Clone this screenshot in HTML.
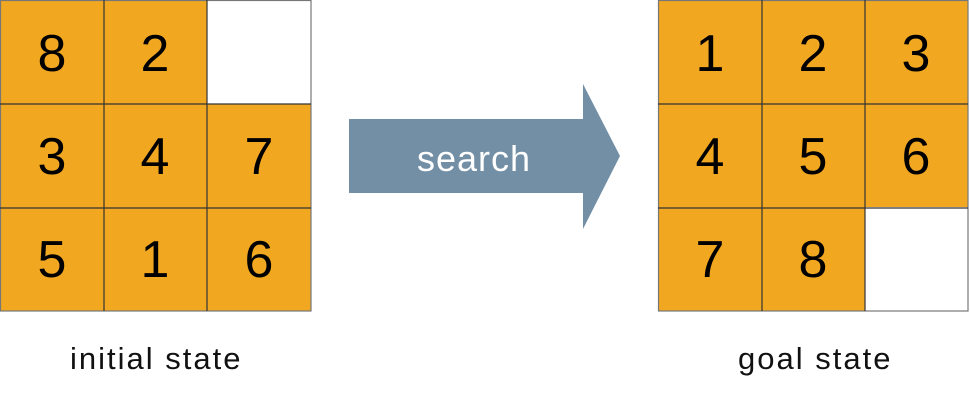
<!DOCTYPE html>
<html><head><style>
body{margin:0;width:970px;height:405px;background:#fff;overflow:hidden}
</style></head><body>
<svg width="970" height="405" style="position:absolute;left:0;top:0" font-family="Liberation Sans,sans-serif">
<g fill="#F2A720">
<rect x="0" y="0" width="207" height="104"/><rect x="0" y="104" width="311" height="207"/>
<rect x="658" y="0" width="310" height="207"/><rect x="658" y="207" width="207" height="104"/>
</g>
<g stroke="#333" stroke-width="1.2" fill="none">
<rect x="0.5" y="0.5" width="310.5" height="310.5" stroke="#777"/>
<line x1="104" y1="0" x2="104" y2="311"/><line x1="207" y1="0" x2="207" y2="311"/>
<line x1="0" y1="104" x2="311" y2="104"/><line x1="0" y1="208" x2="311" y2="208"/>
<rect x="658.5" y="0.5" width="309.5" height="310.5" stroke="#777"/>
<line x1="762" y1="0" x2="762" y2="311"/><line x1="865" y1="0" x2="865" y2="311"/>
<line x1="658" y1="104" x2="968" y2="104"/><line x1="658" y1="208" x2="968" y2="208"/>
</g>
<g font-size="52" text-anchor="middle" fill="#000">
<text x="52" y="71">8</text><text x="155" y="71">2</text>
<text x="52" y="174">3</text><text x="155" y="174">4</text><text x="259" y="174">7</text>
<text x="52" y="277">5</text><text x="155" y="277">1</text><text x="259" y="277">6</text>
<text x="710" y="71">1</text><text x="813" y="71">2</text><text x="916" y="71">3</text>
<text x="710" y="174">4</text><text x="813" y="174">5</text><text x="916" y="174">6</text>
<text x="710" y="277">7</text><text x="813" y="277">8</text>
</g>
<polygon points="349,119 583,119 583,84 620,156 583,229 583,193 349,193" fill="#728FA6"/>
<text x="474" y="171" font-size="36" fill="#fff" text-anchor="middle" letter-spacing="1">search</text>
<text x="70" y="369" font-size="31" fill="#111" letter-spacing="2">initial state</text>
<text x="738" y="369" font-size="31" fill="#111" letter-spacing="2">goal state</text>
</svg>
</body></html>
